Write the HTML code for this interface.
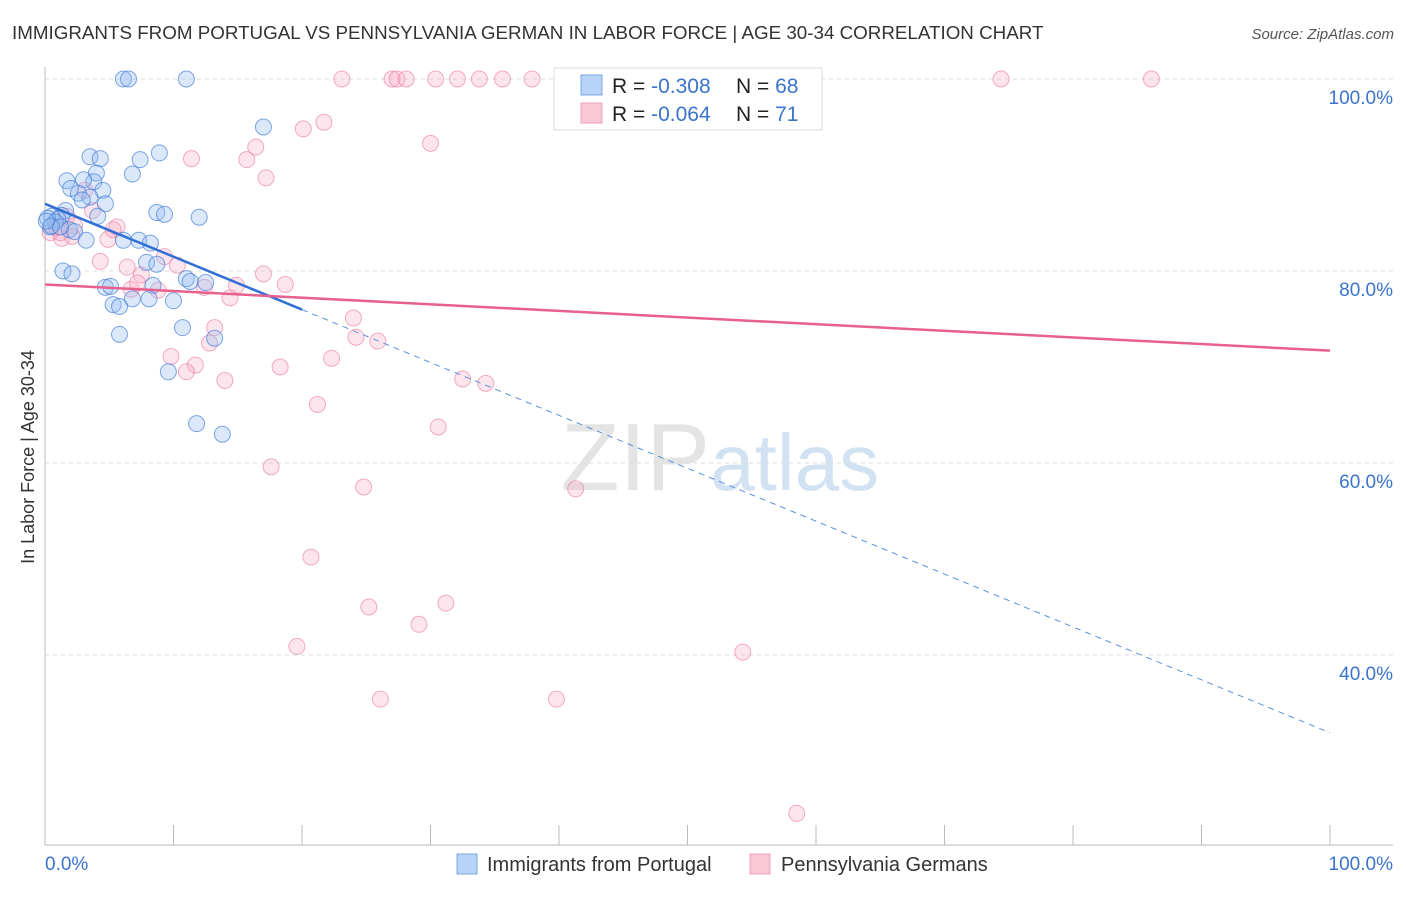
<!DOCTYPE html>
<html><head><meta charset="utf-8"><style>
body{margin:0;background:#fff;font-family:"Liberation Sans",sans-serif;}
svg text{font-family:"Liberation Sans",sans-serif;}
</style></head><body>
<svg id="chart" width="1406" height="892">
<text x="12" y="39" font-size="18.8" fill="#333">IMMIGRANTS FROM PORTUGAL VS PENNSYLVANIA GERMAN IN LABOR FORCE | AGE 30-34 CORRELATION CHART</text>
<text x="1394" y="39" font-size="15" fill="#555" text-anchor="end" font-style="italic">Source: ZipAtlas.com</text>
<text x="720" y="490" font-size="96" fill="#e4e4e4" text-anchor="middle" font-family="Liberation Serif">ZIP<tspan fill="#d3e2f3" font-family="Liberation Sans" font-size="80">atlas</tspan></text>
<g id="grid"></g><g id="axes"></g><g id="pts"></g><g id="lines"></g>
<text transform="translate(34,457) rotate(-90)" font-size="18" fill="#333" text-anchor="middle">In Labor Force | Age 30-34</text>
<g>
<rect x="554" y="68" width="268" height="62" fill="#fff" stroke="#ddd"/>
<rect x="581" y="75" width="21" height="20" fill="#b8d3f5" stroke="#7aa7e6"/>
<rect x="581" y="103" width="21" height="20" fill="#fcc8d8" stroke="#f0a0b8"/>
<text x="612" y="93" font-size="21" fill="#222">R = <tspan fill="#3b74cc">-0.308</tspan></text>
<text x="736" y="93" font-size="21" fill="#222">N = <tspan fill="#3b74cc">68</tspan></text>
<text x="612" y="121" font-size="21" fill="#222">R = <tspan fill="#3b74cc">-0.064</tspan></text>
<text x="736" y="121" font-size="21" fill="#222">N = <tspan fill="#3b74cc"> 71</tspan></text>
</g>
<g>
<rect x="457" y="854" width="20" height="20" fill="#b8d3f5" stroke="#7aa7e6"/>
<text x="487" y="871" font-size="20" fill="#333">Immigrants from Portugal</text>
<rect x="750" y="854" width="20" height="20" fill="#fcc8d8" stroke="#f0a0b8"/>
<text x="781" y="871" font-size="20" fill="#333">Pennsylvania Germans</text>
</g>
</svg>
<script>
const blueX=[6.1,6.5,11.0,17.0,8.9,7.4,3.5,4.3,6.8,1.7,4.0,3.8,3.0,2.0,4.5,2.6,3.5,2.9,4.7,4.1,1.6,1.3,0.5,1.0,0.2,0.8,0.4,1.9,2.3,3.2,8.7,9.3,12.0,6.1,7.3,8.2,7.9,8.7,1.4,2.1,11.0,11.3,12.5,4.7,5.1,8.4,6.8,8.1,10.0,5.3,5.8,10.7,13.2,5.8,9.6,11.8,13.8,0.5,1.2,0.1];
const blueY=[100,100,100,95.0,92.3,91.6,91.9,91.7,90.1,89.4,90.2,89.3,89.5,88.6,88.4,88.1,87.7,87.4,87.0,85.7,86.3,85.8,85.7,85.4,85.5,85.1,84.6,84.3,84.1,83.2,86.1,85.9,85.6,83.2,83.2,82.9,80.9,80.7,80.0,79.7,79.2,78.9,78.8,78.3,78.4,78.5,77.1,77.1,76.9,76.5,76.3,74.1,73.0,73.4,69.5,64.1,63.0,84.7,84.6,85.2];
const pinkX=[23.1,27.0,27.4,28.1,30.4,32.1,33.8,35.6,37.9,46.8,74.4,86.1,21.7,20.1,30.0,16.4,11.4,15.7,17.2,3.1,3.7,1.7,5.6,0.4,1.3,4.9,5.3,4.3,6.4,7.5,10.3,9.3,17.0,18.7,14.9,6.7,8.8,12.4,14.4,13.2,24.0,24.2,25.9,12.8,9.8,22.3,11.7,18.3,11.0,14.0,32.5,34.3,21.2,30.6,17.6,24.8,41.3,20.7,25.2,31.2,29.1,19.6,54.3,26.1,39.8,58.5,0.9,2.3,2.1,1.2,7.2];
const pinkY=[100,100,100,100,100,100,100,100,100,100,100,100,95.5,94.8,93.3,92.9,91.7,91.6,89.7,88.4,86.3,85.7,84.6,84.0,83.4,83.3,84.3,81.0,80.4,79.6,80.6,81.5,79.7,78.6,78.5,78.1,78.0,78.3,77.2,74.1,75.1,73.1,72.7,72.5,71.1,70.9,70.2,70.0,69.5,68.6,68.75,68.3,66.1,63.75,59.6,57.5,57.3,50.2,45.0,45.4,43.2,40.9,40.3,35.4,35.4,23.5,84.5,84.7,83.6,84.0,78.75];
const yTicks=[100,80,60,40];
const yTickLabels=["100.0%","80.0%","60.0%","40.0%"];
const xTicks=[0,10,20,30,40,50,60,70,80,90,100];
const blueFit=[87.0,-0.551];
const pinkFit=[78.6,-0.069];
const X=v=>45+v*12.85, Y=v=>79+(100-v)*9.6;
const ns="http://www.w3.org/2000/svg";
function mk(p,t,a){const e=document.createElementNS(ns,t);for(const k in a)e.setAttribute(k,a[k]);document.getElementById(p).appendChild(e);return e;}
yTicks.forEach((t,i)=>{
 const l=mk('grid','line',{x1:45,x2:1393,y1:Y(t),y2:Y(t),stroke:'#ddd','stroke-dasharray':'4,4'});
 
 
 const tx=mk('axes','text',{x:1393,y:Y(t)+25,'font-size':19,fill:'#3b74cc','text-anchor':'end'});
 tx.textContent=yTickLabels[i];
 
 
});
const ax=mk('axes','line',{x1:45,x2:1393,y1:845,y2:845,stroke:'#bbb'});


const ay=mk('axes','line',{x1:45,x2:45,y1:67,y2:845,stroke:'#bbb'});


xTicks.forEach(t=>{const l=mk('axes','line',{x1:X(t),x2:X(t),y1:825,y2:845,stroke:'#bbb'});
 
 });
const x0=mk('axes','text',{x:45,y:870,'font-size':19,fill:'#3b74cc'});x0.textContent='0.0%';


const x1=mk('axes','text',{x:1393,y:870,'font-size':19,fill:'#3b74cc','text-anchor':'end'});x1.textContent='100.0%';


pinkX.forEach((x,i)=>{const c=mk('pts','circle',{cx:X(x),cy:Y(pinkY[i]),r:8,fill:'rgba(248,170,195,0.3)',stroke:'rgba(235,120,155,0.6)','stroke-width':1});
 
 });
blueX.forEach((x,i)=>{const c=mk('pts','circle',{cx:X(x),cy:Y(blueY[i]),r:8,fill:'rgba(150,190,240,0.35)',stroke:'rgba(60,120,215,0.65)','stroke-width':1});
 
 });
const f=(p,x)=>p[0]+p[1]*x;
const b1=mk('lines','line',{x1:X(0),y1:Y(f(blueFit,0)),x2:X(20),y2:Y(f(blueFit,20)),stroke:'#2f6fd6','stroke-width':2.5});


const b2=mk('lines','line',{x1:X(20),y1:Y(f(blueFit,20)),x2:X(100),y2:Y(f(blueFit,100)),stroke:'#5b8fe0','stroke-width':1,'stroke-dasharray':'6,5'});


const p1=mk('lines','line',{x1:X(0),y1:Y(f(pinkFit,0)),x2:X(100),y2:Y(f(pinkFit,100)),stroke:'#e8608e','stroke-width':2.5});


</script>
</body></html>
